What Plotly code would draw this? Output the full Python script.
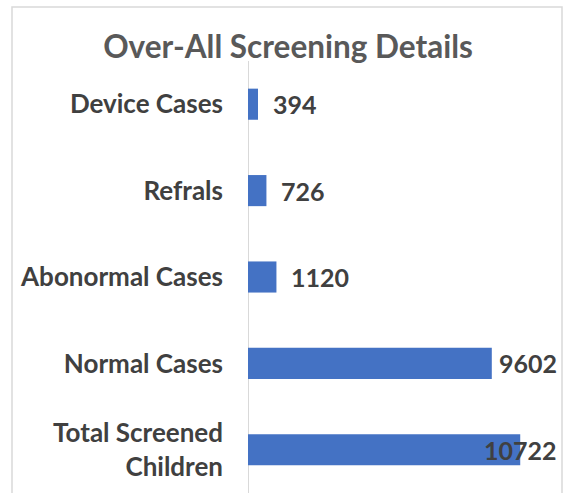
import plotly.graph_objects as go

# ---- data ----
categories = ["Total Screened<br>Children", "Normal Cases", "Abonormal Cases", "Refrals", "Device Cases"]
values = [10722, 9602, 1120, 726, 394]
title_text = "Over-All Screening Details"

BAR_COLOR = "#4472C4"
TEXT_COLOR = "#404040"
FONT = "Lato"

W, H = 567, 493
ML, MR, MT, MB = 248, 10, 61, 0
XMAX = 12170
plot_w = W - ML - MR
px_per_unit = plot_w / XMAX
LABEL_SIZE = 25

fig = go.Figure()
fig.add_trace(go.Bar(
    y=categories, x=values, orientation="h",
    marker=dict(color=BAR_COLOR, line=dict(width=0)),
    width=0.36, hoverinfo="skip",
))

annotations = []
for c, v in zip(categories, values):
    label = str(v)
    label_w = len(label) * 13.5 + 14
    if v * px_per_unit + label_w <= plot_w:
        annotations.append(dict(x=v, y=c, xref="x", yref="y", text="<b>%s</b>" % label,
                                showarrow=False, xanchor="left", xshift=13,
                                font=dict(family=FONT, size=LABEL_SIZE, color=TEXT_COLOR)))
    else:
        annotations.append(dict(x=XMAX, y=c, xref="x", yref="y", text="<b>%s</b>" % label,
                                showarrow=False, xanchor="right", xshift=2,
                                font=dict(family=FONT, size=LABEL_SIZE, color=TEXT_COLOR)))

fig.update_layout(
    width=W, height=H,
    margin=dict(l=ML, r=MR, t=MT, b=MB),
    paper_bgcolor="white", plot_bgcolor="white",
    showlegend=False,
    title=dict(text="<b>%s</b>" % title_text, x=288 / W, xanchor="center",
               y=1 - 47 / H, yanchor="middle",
               font=dict(family=FONT, size=31.5, color="#595959")),
    xaxis=dict(range=[0, XMAX], showgrid=False, showticklabels=False, ticks="",
               zeroline=True, zerolinecolor="#d9d9d9", zerolinewidth=1, showline=False,
               fixedrange=True),
    yaxis=dict(showgrid=False, showline=False, ticks="", ticklabelstandoff=24,
               tickfont=dict(family=FONT, size=26, color=TEXT_COLOR),
               range=[-0.5, 4.5], automargin=False, fixedrange=True),
    annotations=annotations,
    shapes=[dict(type="rect", xref="paper", yref="paper",
                 x0=(12 - ML) / plot_w, x1=(562 - ML) / plot_w,
                 y0=-0.05, y1=(H - MB - 7) / (H - MT - MB),
                 line=dict(color="#d9d9d9", width=1.5), fillcolor="rgba(0,0,0,0)",
                 layer="below")],
)
fig.update_yaxes(tickvals=categories, ticktext=["<b>%s</b>" % c for c in categories])

fig.write_html("out.html", config={"displayModeBar": False},
               post_script="document.body.style.margin='0px';document.body.style.overflow='hidden';")
